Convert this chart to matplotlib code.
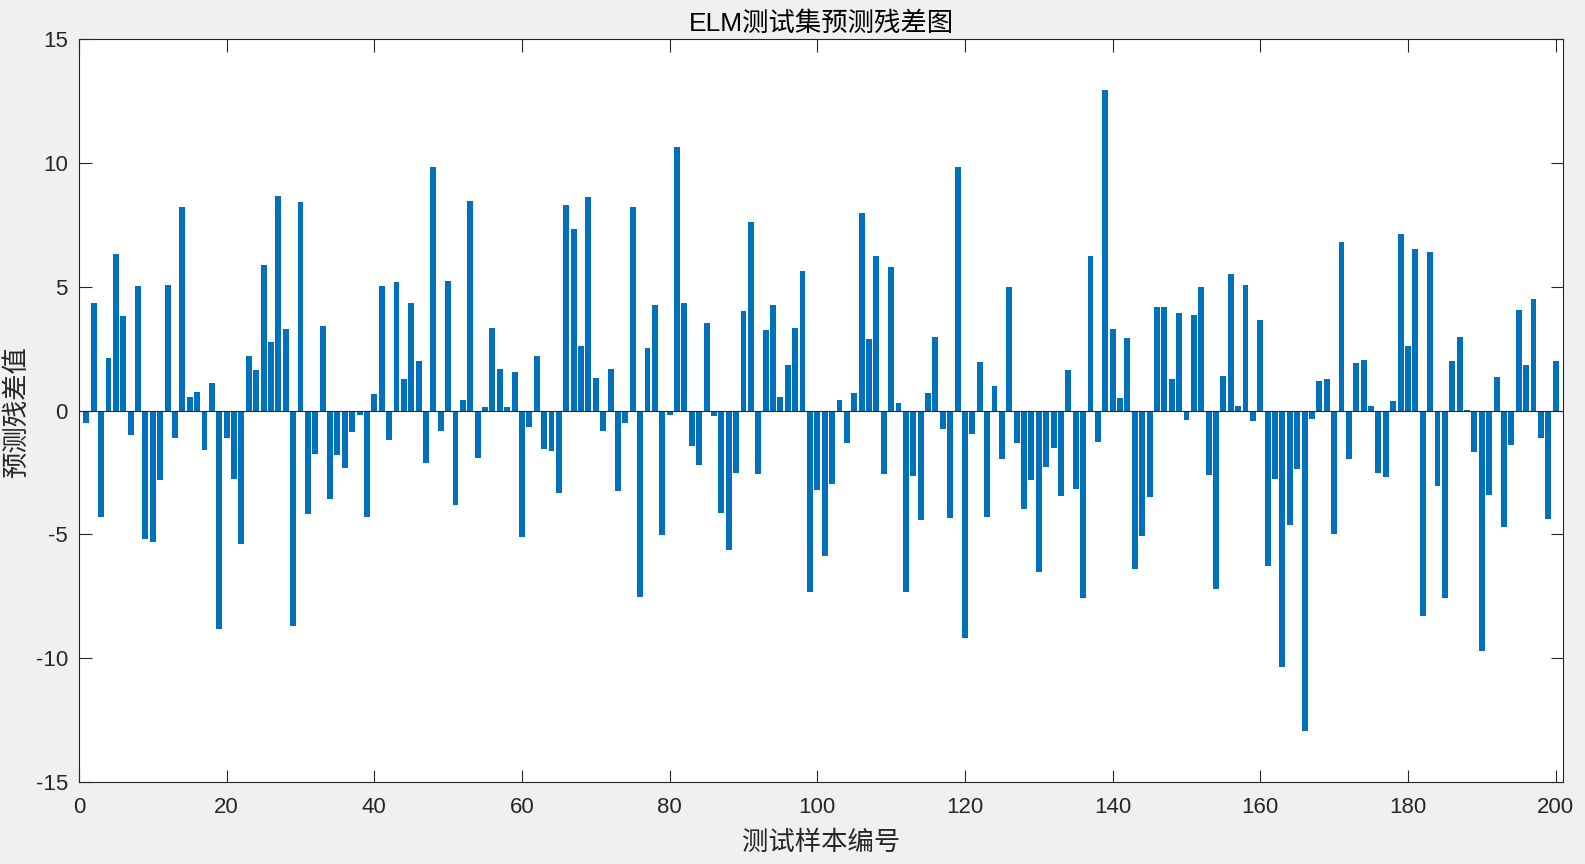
import matplotlib
matplotlib.use("Agg")
import matplotlib.pyplot as plt
import numpy as np

# residuals of the ELM test set, samples 1..200
residuals = [
    -0.48, 4.36, -4.30, 2.12, 6.34, 3.84, -0.99, 5.05, -5.19, -5.29,
    -2.81, 5.07, -1.09, 8.22, 0.55, 0.77, -1.60, 1.11, -8.83, -1.11,
    -2.75, -5.39, 2.22, 1.66, 5.90, 2.77, 8.67, 3.29, -8.71, 8.44,
    -4.18, -1.76, 3.41, -3.58, -1.78, -2.32, -0.85, -0.16, -4.28, 0.67,
    5.05, -1.19, 5.21, 1.27, 4.36, 2.02, -2.12, 9.84, -0.81, 5.25,
    -3.82, 0.42, 8.46, -1.92, 0.16, 3.33, 1.68, 0.14, 1.56, -5.11,
    -0.65, 2.20, -1.56, -1.62, -3.31, 8.30, 7.33, 2.61, 8.65, 1.31,
    -0.81, 1.68, -3.23, -0.48, 8.24, -7.52, 2.55, 4.28, -5.01, -0.18,
    10.65, 4.34, -1.43, -2.20, 3.56, -0.22, -4.12, -5.62, -2.50, 4.02,
    7.62, -2.57, 3.27, 4.28, 0.55, 1.84, 3.35, 5.66, -7.31, -3.19,
    -5.86, -2.95, 0.44, -1.29, 0.73, 7.98, 2.89, 6.24, -2.57, 5.82,
    0.32, -7.33, -2.65, -4.40, 0.71, 2.99, -0.75, -4.34, 9.84, -9.19,
    -0.95, 1.96, -4.30, 0.99, -1.94, 4.99, -1.29, -3.96, -2.81, -6.50,
    -2.28, -1.50, -3.43, 1.66, -3.15, -7.56, 6.24, -1.27, 12.95, 3.31,
    0.51, 2.95, -6.38, -5.07, -3.49, 4.20, 4.18, 1.27, 3.96, -0.36,
    3.88, 5.01, -2.59, -7.21, 1.39, 5.52, 0.18, 5.07, -0.40, 3.66,
    -6.28, -2.75, -10.34, -4.63, -2.34, -12.95, -0.32, 1.19, 1.29, -4.99,
    6.83, -1.94, 1.94, 2.06, 0.18, -2.53, -2.67, 0.38, 7.15, 2.63,
    6.55, -8.28, 6.42, -3.03, -7.58, 2.00, 2.99, 0.02, -1.66, -9.72,
    -3.41, 1.37, -4.69, -1.39, 4.06, 1.84, 4.51, -1.11, -4.36, 2.02,
]
sample_idx = np.arange(1, len(residuals) + 1)

x_ticks = list(range(0, 201, 20))
y_ticks = list(range(-15, 16, 5))

title = "ELM测试集预测残差图"
x_label = "测试样本编号"
y_label = "预测残差值"

plt.rcParams["font.family"] = ["Liberation Sans", "Noto Sans CJK SC", "DejaVu Sans"]
plt.rcParams["axes.unicode_minus"] = False
axis_col = "#262626"

fig = plt.figure(figsize=(15.85, 8.64), dpi=100, facecolor="#f0f0f0")
ax = fig.add_axes([79 / 1585, 82 / 864, 1484 / 1585, 742.6 / 864])
ax.set_facecolor("white")

ax.bar(sample_idx, residuals, width=0.8, color="#0072BD", edgecolor="none")
ax.axhline(0, color=axis_col, lw=0.8, zorder=3)

ax.set_xlim(0, 201)
ax.set_ylim(-15, 15)
ax.set_xticks(x_ticks)
ax.set_yticks(y_ticks)

for s in ax.spines.values():
    s.set_color(axis_col)
    s.set_linewidth(0.8)
ax.tick_params(direction="in", top=True, right=True, length=9, width=0.8,
               colors=axis_col, labelsize=16)
ax.tick_params(axis="x", pad=11)
ax.tick_params(axis="y", pad=8)

ax.set_title(title, fontsize=19, color="black", pad=6)
ax.set_xlabel(x_label, fontsize=19, color=axis_col)
ax.set_ylabel(y_label, fontsize=19, color=axis_col)
ax.xaxis.set_label_coords(0.5, -0.065)
ax.yaxis.set_label_coords(-0.034, 0.5)

fig.savefig("out.png", dpi=100, facecolor=fig.get_facecolor())
